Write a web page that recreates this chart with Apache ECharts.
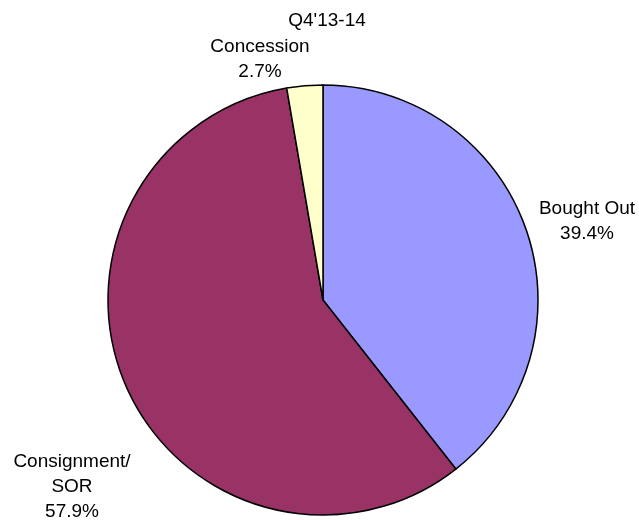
<!DOCTYPE html>
<html>
<head>
<meta charset="utf-8">
<script src="https://cdn.jsdelivr.net/npm/echarts@6/dist/echarts.min.js"></script>
<style>
  html, body { margin: 0; padding: 0; background: #fff; }
  #chart { width: 639px; height: 520px; }
</style>
</head>
<body>
<div id="chart"></div>
<script>
// Revenue mix by trading model, Q4'13-14 (share of total, %)
const chartTitle = "Q4'13-14";
const categories = ['Bought Out', 'Consignment/\nSOR', 'Concession'];
const shares = [39.4, 57.9, 2.7];
const sliceColors = ['#9999FF', '#993366', '#FFFFCC'];

// Where each slice's label block is centred
const labelSpots = {
  'Bought Out': [587, 221],
  'Consignment/\nSOR': [72, 487],
  'Concession': [260, 59]
};

const FONT = '"Liberation Sans", Arial, sans-serif';

const chart = echarts.init(document.getElementById('chart'), null, { renderer: 'canvas' });

chart.setOption({
  animation: false,
  backgroundColor: '#ffffff',
  title: {
    text: chartTitle,
    left: 327,
    top: 8,
    textAlign: 'center',
    padding: 0,
    textStyle: { fontFamily: FONT, fontSize: 19, fontWeight: 'normal', color: '#000', lineHeight: 25 }
  },
  series: [{
    type: 'pie',
    center: [323, 300],
    radius: [0, 215],
    startAngle: 90,
    clockwise: true,
    avoidLabelOverlap: false,
    data: categories.map((name, i) => ({
      name: name,
      value: shares[i],
      itemStyle: { color: sliceColors[i] }
    })),
    itemStyle: { borderColor: '#000', borderWidth: 1.5 },
    emphasis: { disabled: true },
    label: {
      show: true,
      position: 'outside',
      formatter: p => p.name + '\n' + p.value.toFixed(1) + '%',
      fontFamily: FONT,
      fontSize: 19,
      lineHeight: 25,
      color: '#000',
      align: 'center'
    },
    labelLine: { show: false },
    labelLayout: function (params) {
      const name = categories[params.dataIndex];
      const spot = labelSpots[name];
      return { x: spot[0], y: spot[1], align: 'center', verticalAlign: 'middle' };
    }
  }]
});
</script>
</body>
</html>
